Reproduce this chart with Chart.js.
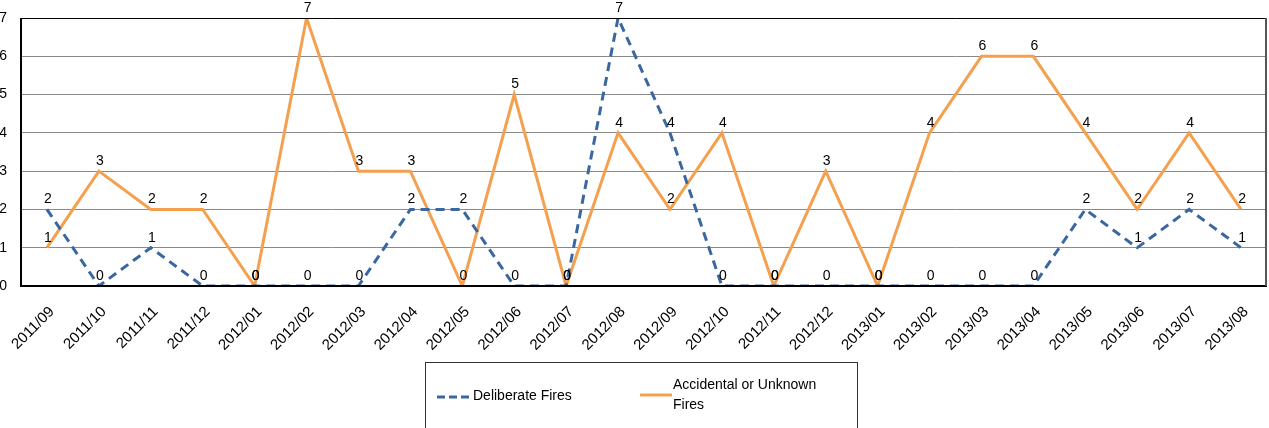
<!DOCTYPE html>
<html>
<head>
<meta charset="utf-8">
<script src="https://cdn.jsdelivr.net/npm/chart.js@4"></script>
<style>
  html, body { margin: 0; padding: 0; background: #fff; }
  #wrap { width: 1269px; height: 428px; position: relative; }
</style>
</head>
<body>
<div id="wrap"><canvas id="myChart" width="1269" height="428"></canvas></div>
<script>
const months = ['2011/09', '2011/10', '2011/11', '2011/12', '2012/01', '2012/02', '2012/03', '2012/04',
    '2012/05', '2012/06', '2012/07', '2012/08', '2012/09', '2012/10', '2012/11', '2012/12',
    '2013/01', '2013/02', '2013/03', '2013/04', '2013/05', '2013/06', '2013/07', '2013/08'];
const deliberate = [2, 0, 1, 0, 0, 0, 0, 2, 2, 0, 0, 7, 4, 0, 0, 0, 0, 0, 0, 0, 2, 1, 2, 1];
const accidental = [1, 3, 2, 2, 0, 7, 3, 3, 0, 5, 0, 4, 2, 4, 0, 3, 0, 4, 6, 6, 4, 2, 4, 2];
const yTicks = [0, 1, 2, 3, 4, 5, 6, 7];

const FONT = '"Liberation Sans", Arial, sans-serif';

// value labels above each point + y tick labels + plot frame
const extras = {
    id: 'extras',
    afterDatasetsDraw(chart) {
        const c = chart.ctx;
        c.save();
        c.font = '14px ' + FONT;
        c.fillStyle = '#000';
        c.textAlign = 'center';
        c.textBaseline = 'bottom';
        chart.data.datasets.forEach((ds, i) => {
            chart.getDatasetMeta(i).data.forEach((pt, j) => {
                c.fillText(String(ds.data[j]), pt.x + 1, pt.y - 3);
            });
        });
        const y = chart.scales.y;
        c.textAlign = 'right';
        c.textBaseline = 'middle';
        yTicks.forEach(v => c.fillText(String(v), 7, y.getPixelForValue(v)));
        const a = chart.chartArea;
        c.strokeStyle = '#000';
        c.lineWidth = 1;
        c.beginPath();
        c.moveTo(a.left + 0.5, a.top + 0.5);
        c.lineTo(a.right - 0.5, a.top + 0.5);
        c.stroke();
        c.lineWidth = 2;
        c.beginPath();
        c.moveTo(a.left, a.top);
        c.lineTo(a.left, a.bottom);
        c.lineTo(a.right, a.bottom);
        c.stroke();
        c.strokeStyle = '#555';
        c.beginPath();
        c.moveTo(a.right - 1, a.top);
        c.lineTo(a.right - 1, a.bottom);
        c.stroke();
        c.restore();
    },
    afterDraw(chart) {
        const c = chart.ctx;
        const ds = chart.data.datasets;
        c.save();
        c.strokeStyle = '#333';
        c.lineWidth = 1;
        c.strokeRect(425.5, 362.5, 432, 80);
        c.lineWidth = 3;
        c.strokeStyle = ds[0].borderColor;
        c.setLineDash([8, 4]);
        c.beginPath(); c.moveTo(437, 397); c.lineTo(473, 397); c.stroke();
        c.setLineDash([]);
        c.strokeStyle = ds[1].borderColor;
        c.beginPath(); c.moveTo(640, 395); c.lineTo(672, 395); c.stroke();
        c.font = '14px ' + FONT;
        c.fillStyle = '#000';
        c.textBaseline = 'middle';
        c.fillText(ds[0].label, 473, 396);
        c.fillText('Accidental or Unknown', 673, 385);
        c.fillText('Fires', 673, 405);
        c.restore();
    }
};

const ctx = document.getElementById('myChart').getContext('2d');
let myChart = new Chart(ctx, {
    type: 'line',
    data: {
        labels: months,
        datasets: [{
            label: 'Deliberate Fires',
            data: deliberate,
            borderColor: '#3a67a0',
            borderWidth: 3,
            borderDash: [9, 6],
            pointRadius: 0,
            tension: 0,
            fill: false
        }, {
            label: 'Accidental or Unknown Fires',
            data: accidental,
            borderColor: '#f4a04f',
            borderWidth: 3,
            pointRadius: 0,
            tension: 0,
            fill: false
        }]
    },
    options: {
        responsive: false,
        animation: false,
        layout: { padding: { top: 18, right: 2, left: 0, bottom: 0 } },
        plugins: {
            legend: { display: false },
            tooltip: { enabled: false }
        },
        scales: {
            x: {
                offset: true,
                grid: { display: false },
                border: { display: false },
                ticks: {
                    color: '#000',
                    font: { family: FONT, size: 15 },
                    maxRotation: 45,
                    minRotation: 45,
                    autoSkip: false,
                    padding: 9,
                    labelOffset: 5
                },
                afterFit(scale) { scale.height = 142; }
            },
            y: {
                min: 0,
                max: 7,
                ticks: { display: false, stepSize: 1 },
                grid: { color: '#8a8a8a', lineWidth: 1, drawTicks: false },
                border: { display: false },
                afterFit(scale) { scale.width = 20; }
            }
        }
    },
    plugins: [extras]
});
</script>
</body>
</html>
